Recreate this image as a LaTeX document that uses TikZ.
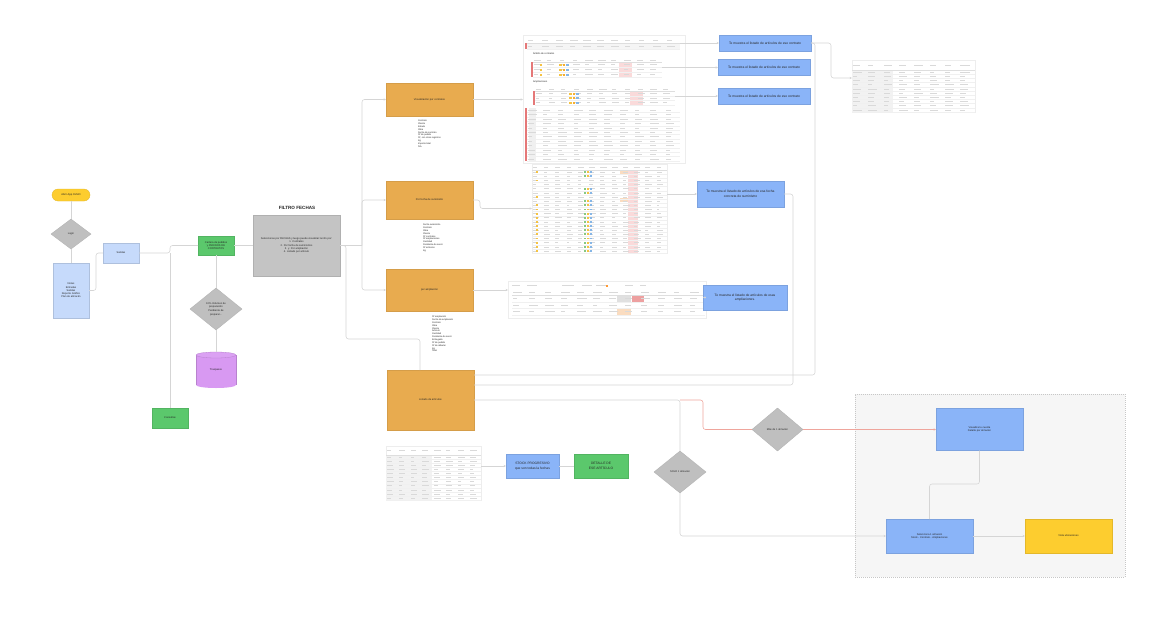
\documentclass[tikz,border=0pt]{standalone}
\usepackage{fontspec}
\setmainfont{Liberation Sans}
\usetikzlibrary{shapes.geometric,arrows.meta,calc}
\definecolor{cOrange}{HTML}{E8AB4F}
\definecolor{cGrey}{HTML}{C4C4C4}
\definecolor{cDia}{HTML}{BFBFBF}
\definecolor{cLBlue}{HTML}{C6DAFB}
\definecolor{cBlue}{HTML}{8AB4F8}
\definecolor{cGreen}{HTML}{5BC86C}
\definecolor{cPurp}{HTML}{D899F2}
\definecolor{cYellow}{HTML}{FDCD2F}
\definecolor{cLine}{HTML}{D5D5D5}
\definecolor{cPink}{HTML}{EFA59C}
\definecolor{cBg}{HTML}{F6F6F6}
\definecolor{cPinkCol}{HTML}{FADADA}
\definecolor{cRed}{HTML}{E57878}
\definecolor{cIcoY}{HTML}{F5C343}
\definecolor{cIcoG}{HTML}{86C982}
\definecolor{cIcoB}{HTML}{86B6E6}
\definecolor{cCellO}{HTML}{FADCC0}
\pgfmathsetseed{7}
\newcommand{\tgrid}[7]{%
  \pgfmathsetmacro{\tgrh}{(#4-#2-#5)/#6}%
  \pgfmathsetmacro{\tgcw}{(#3-#1)/#7}%
  \pgfmathtruncatemacro{\tgnc}{#7-1}%
  \pgfmathsetmacro{\tghy}{#2+#5}%
  \ifdim #5pt>0pt
    \draw[thead] ({#1},{\tghy}) -- ({#3},{\tghy});%
    \foreach \tgc in {0,...,\tgnc}{%
      \fill[tdash] ({#1+\tgc*\tgcw+0.8},{#2+#5/2-0.3}) rectangle ++({\tgcw*(0.3+0.3*rnd)},0.6);}%
  \fi
  \foreach \tgr in {1,...,#6}{%
    \draw[trow] ({#1},{\tghy+\tgr*\tgrh}) -- ({#3},{\tghy+\tgr*\tgrh});%
    \foreach \tgc in {0,...,\tgnc}{%
      \fill[tdash] ({#1+\tgc*\tgcw+0.8},{\tghy+(\tgr-0.5)*\tgrh-0.25}) rectangle ++({\tgcw*(0.25+0.35*rnd)},0.5);}}%
}
\begin{document}
\begin{tikzpicture}[x=1pt,y=-1pt,
  every node/.style={inner sep=0pt, outer sep=0pt, text=black!85},
  tx/.style={font=\fontsize{2.6}{3.2}\selectfont, align=center},
  txb/.style={font=\fontsize{3.3}{4.6}\selectfont, align=center},
  lst/.style={font=\fontsize{2.3}{2.85}\selectfont, align=left, anchor=north west},
  obox/.style={fill=cOrange, draw=cOrange!92!black, line width=0.3, tx},
  bbox/.style={fill=cBlue, draw=cBlue!90!black, line width=0.3, txb},
  lbox/.style={fill=cLBlue, draw=cLBlue!88!black, line width=0.3, tx},
  gbox/.style={fill=cGreen, draw=cGreen!90!black, line width=0.3, tx},
  gybox/.style={fill=cGrey, draw=cGrey!90!black, line width=0.3, tx},
  diam/.style={diamond, fill=cDia, draw=cDia!92!black, line width=0.3, tx},
  card/.style={fill=white, draw=black!7, line width=0.3},
  anc/.style={draw=none},
  thead/.style={draw=black!13, line width=0.3},
  trow/.style={draw=black!6, line width=0.25},
  tdash/.style={fill=black!15},
  conn/.style={draw=cLine, line width=0.55, rounded corners=2.5},
  arr/.style={conn, -{Stealth[length=2.4,width=2.2]}},
  pconn/.style={conn, draw=cPink},
  parr/.style={pconn, -{Stealth[length=2.4,width=2.2]}}]
\useasboundingbox (0,0) rectangle (1176,621);
\fill[white] (0,0) rectangle (1176,621);

% ---------- right grey area ----------
\node[fill=cBg, draw=black!22, line width=0.3, dash pattern=on 1pt off 1pt, minimum width=270, minimum height=183] (area) at (990,485.5) {};

% ---------- left column ----------
\node[fill=cYellow, draw=cYellow!90!black, line width=0.3, rounded corners=6, minimum width=38, minimum height=12, tx] (pill) at (71,195) {Abrir App OLMO};
\node[diam, minimum width=40, minimum height=30] (login) at (71,234) {Login};
\node[lbox, minimum width=36, minimum height=55] (menu) at (71,290.5) {Notas\\Entradas\\Salidas\\Reporte Gráfico\\Plan de almacén};
\node[lbox, minimum width=36, minimum height=20] (salidas) at (121,253) {Salidas};
\node[gbox, minimum width=36, minimum height=19] (cartera) at (216,245.5) {Cartera de pedidos\\y PEDIDOS DE\\CONTRATOS};
\node[diam, minimum width=52, minimum height=42] (dia2) at (216,309) {10\% Volumen de\\preparación\\[1.2pt]Pendiente de\\preparar...};
\fill[cPurp] (196,355) rectangle (236,385);
\fill[cPurp] (216,385) ellipse (20 and 3);
\draw[cPurp!85!black, line width=0.3] (196,355) -- (196,385) (236,355) -- (236,385);
\draw[cPurp!85!black, line width=0.3, fill=cPurp!92!white] (216,355) ellipse (20 and 3);
\node[anc, minimum width=40, minimum height=36, tx] (cyl) at (216,370) {Traspasos};
\node[gbox, minimum width=36, minimum height=20] (consulta) at (170,418) {Consultas};

% ---------- filter ----------
\node[font=\bfseries\fontsize{4.6}{5.5}\selectfont] (ftitle) at (297,208) {FILTRO FECHAS};
\node[gybox, minimum width=87, minimum height=61] (filtro) at (296.5,245.5) {Seleccionas por FECHAS y luego puede visualizar la info por:\\1. Contratos\\2. Por fecha de suministros\\3. y. Por ampliación\\4. Listado por artículo};

% ---------- orange boxes ----------
\node[obox, minimum width=87, minimum height=33] (A) at (429.5,99.5) {Visualización por contratos};
\node[obox, minimum width=87, minimum height=38] (B) at (429.5,200) {Por fecha de suministro};
\node[obox, minimum width=87, minimum height=42] (C) at (429.5,290) {por ampliación};
\node[obox, minimum width=87, minimum height=60] (D) at (430.5,400) {Listado de artículos};

\node[lst] (lA) at (418,120) {Contrato\\Cliente\\Estado\\Obra\\Fecha de contrato\\Nº de pedido\\Nº, con otros registros\\Kg\\Importe total\\IVA};
\node[lst] (lB) at (423,224) {Fecha suministro\\Contrato\\Obra\\Cliente\\Nº contratos\\Nº ampliaciones\\Cantidad\\Pendiente de servir\\Nº artículos\\Kg};
\node[lst] (lC) at (432,316) {Nº ampliación\\Fecha de ampliación\\Contrato\\Obra\\Cliente\\Artículo\\Cantidad\\Pendiente de servir\\Entregado\\Nº de pedido\\Nº de albarán\\Kg\\Total};

% ---------- table 1 ----------
\node[card, minimum width=162, minimum height=128] (T1) at (604,99) {};
\node[anc, minimum width=153, minimum height=12] (t1a) at (603.5,43) {};
\node[anc, minimum width=129, minimum height=19] (t1b) at (597.5,67.5) {};
\node[anc, minimum width=140, minimum height=18] (t1c) at (605,96) {};
\node[anc, minimum width=153, minimum height=53] (t1d) at (603.5,134.5) {};
\fill[black!4] (527,43) rectangle (680,49);
\fill[cRed] (525,43) rectangle (527,49);
\tgrid{527}{37}{680}{49}{6}{1}{11}
\node[font=\fontsize{2.4}{3}\selectfont, anchor=west] (st1) at (533,53.5) {Ámbito de contratos};
\fill[cRed] (531,62) rectangle (533,77);
\fill[cPinkCol] (619,62) rectangle (632,77);
\tgrid{533}{58}{662}{77}{4}{3}{10}
\foreach \yy in {63.5,68.5,73.5}{
  \fill[cIcoY] (540,\yy) rectangle ++(2,2);
  \fill[cIcoY] (559,\yy) rectangle ++(2.5,2);
  \fill[cIcoY!70!orange] (562.5,\yy) rectangle ++(2.5,2);
  \fill[cIcoB] (566,\yy) rectangle ++(2.5,2);}
\node[font=\fontsize{2.4}{3}\selectfont, anchor=west] (st2) at (533,82) {Ampliaciones};
\fill[cRed] (533,91) rectangle (535,105);
\fill[cPinkCol] (630,91) rectangle (643,105);
\tgrid{535}{87}{675}{105}{4}{3}{11}
\foreach \yy in {92.5,97,101.5}{
  \fill[cIcoY] (569,\yy) rectangle ++(2.5,2);
  \fill[cIcoY!70!orange] (572.5,\yy) rectangle ++(2.5,2);
  \fill[cIcoB] (576,\yy) rectangle ++(2.5,2);}
\fill[cRed] (525,108) rectangle (527,161);
\fill[black!6] (529,108) rectangle (536,161);
\tgrid{527}{108}{680}{161}{0}{12}{10}

% ---------- table 2 ----------
\node[card, minimum width=135, minimum height=89] (T2) at (599.5,208.5) {};
\fill[cPinkCol] (628,170) rectangle (638,253);
\fill[cCellO] (620,170) rectangle (628,174);
\fill[cCellO] (620,198) rectangle (628,202);
\tgrid{532}{164}{667}{253}{6}{20}{12}
\foreach \rr in {0,2,6,8,9,10,11,12,13,14,15,16,17,18,19}{
  \fill[cIcoY] (535.5,{171.2+\rr*4.15}) rectangle ++(2,1.8);}
\foreach \rr in {0,1,4,5,7,8,9,10,11,12,13,14,15,16,17,18,19}{
  \fill[cIcoG] (584,{171.2+\rr*4.15}) rectangle ++(2.2,1.8);
  \fill[cIcoY] (587,{171.2+\rr*4.15}) rectangle ++(2.2,1.8);
  \fill[cIcoB] (590,{171.2+\rr*4.15}) rectangle ++(2.2,1.8);}

% ---------- table 3 ----------
\node[card, minimum width=198, minimum height=37] (T3) at (607,299.5) {};
\foreach \xx/\ww in {512/8,527/10,562/12,582/10,596/10,625/8,640/6}{
  \fill[tdash] (\xx,285.2) rectangle ++(\ww,0.7);}
\fill[orange!80] (606,284.6) rectangle ++(2.4,2);
\fill[black!12] (617,296) rectangle (631,302);
\fill[cRed!70] (632,296) rectangle (644,302);
\fill[cCellO] (617,309) rectangle (631,315);
\tgrid{512}{290}{705}{315}{5}{3}{12}

% ---------- table 4 ----------
\node[card, minimum width=95, minimum height=54] (T4) at (433.5,473) {};
\fill[black!5] (386,455) rectangle (432,500);
\tgrid{386}{446}{481}{500}{9}{11}{8}

% ---------- table 5 ----------
\node[card, minimum width=123, minimum height=52] (T5) at (913.5,86) {};
\fill[black!5] (852,70) rectangle (893,112);
\tgrid{852}{60}{975}{112}{10}{10}{8}

% ---------- blue boxes ----------
\node[bbox, minimum width=92, minimum height=16] (b1) at (765,43) {Te muestra el listado de artículos de ese contrato};
\node[bbox, minimum width=92, minimum height=16] (b2) at (764,67.5) {Te muestra el listado de artículos de ese contrato};
\node[bbox, minimum width=92, minimum height=16] (b3) at (764,96) {Te muestra el listado de artículos de ese contrato};
\node[bbox, minimum width=87, minimum height=26] (b4) at (740.5,194) {Te muestra el listado de artículos de esa fecha\\concreta de suministro};
\node[bbox, minimum width=84, minimum height=25] (b5) at (745,297.5) {Te muestra el listado de artículos de esas\\ampliaciones.};
\node[bbox, minimum width=53, minimum height=24] (stock) at (532.5,466) {STOCK PROGRESIVO\\que son todas la fechas};
\node[gbox, txb, minimum width=54, minimum height=24] (detalle) at (601,466) {DETALLE DE\\ESE ARTÍCULO};

% ---------- right part ----------
\node[diam, minimum width=51, minimum height=43] (mas) at (777.5,429.5) {Más de 1 almacén};
\node[diam, minimum width=52, minimum height=42] (solo) at (680,472) {SOLO 1 almacén};
\node[bbox, tx, minimum width=87, minimum height=42] (vis) at (979.5,429.5) {Visualiza tu cuenta\\Detalle por almacén};
\node[bbox, tx, minimum width=87, minimum height=34] (det1) at (929.5,536) {Selecciona 1 almacén\\Stock - Contrato - Ampliaciones};
\node[fill=cYellow, draw=cYellow!90!black, line width=0.3, tx, minimum width=87, minimum height=34] (yel) at (1068.5,536) {Vista ubicaciones};

% ---------- connectors ----------
\draw[conn] (pill.south) -- (login.north);
\draw[conn] (login.south) -- (menu.north);
\draw[conn] (menu.east) -- ++(7,0) |- (salidas.west);
\coordinate (j1) at (170,253);
\draw[conn] (salidas.east) -- (j1) |- (cartera.west);
\draw[conn] (j1) -- (consulta.north);
\draw[conn] (cartera.east) -- (filtro.west);
\draw[conn] (cartera.south) -- (dia2.north);
\draw[conn] (dia2.south) -- (cyl.north);
\coordinate (f1) at (362,245.5);
\draw[conn] (filtro.east) -- (f1);
\draw[arr] (f1) |- (A.west);
\draw[arr] (f1) |- (B.west);
\draw[arr] (f1) |- (C.west);
\draw[conn] (filtro.east) -- (346,245.5) |- (420,339) -- ([xshift=-10.5pt]D.north);
\draw[arr] (A.east) -- (A.east -| T1.west);
\draw[arr] (B.east) -- ++(7,0) |- (T2.west);
\draw[arr] (C.east) -- (C.east -| T3.west);
\draw[arr] (t1a.east) -- (b1.west);
\draw[arr] (t1b.east) -- (b2.west);
\draw[arr] (t1c.east) -- (b3.west);
\draw[arr] (T2.east |- b4.west) -- (b4.west);
\draw[arr] (T3.east |- b5.west) -- (b5.west);
\draw[arr] (T4.east |- stock.west) -- (stock.west);
\draw[conn] (stock.east) -- (detalle.west);
\draw[arr] (b1.east) -- ++(20,0) |- ([yshift=8pt]T5.west);
\draw[conn] (b1.east) -| (815,375) -- (D.east |- 0,375);
\draw[conn] (b4.east) -| (793,385) -- (D.east |- 0,385);
\coordinate (dj) at (680,400);
\draw[conn] (D.east) -- (dj) -- (solo.north);
\draw[pconn] (dj) -- (703,400) |- (mas.west);
\draw[parr] (mas.east) -- (vis.west);
\draw[conn] (vis.south) -- (979.5,484) -| (det1.north);
\draw[arr] (solo.south) |- (det1.west);
\draw[arr] (det1.east) -- (yel.west);
\end{tikzpicture}
\end{document}
